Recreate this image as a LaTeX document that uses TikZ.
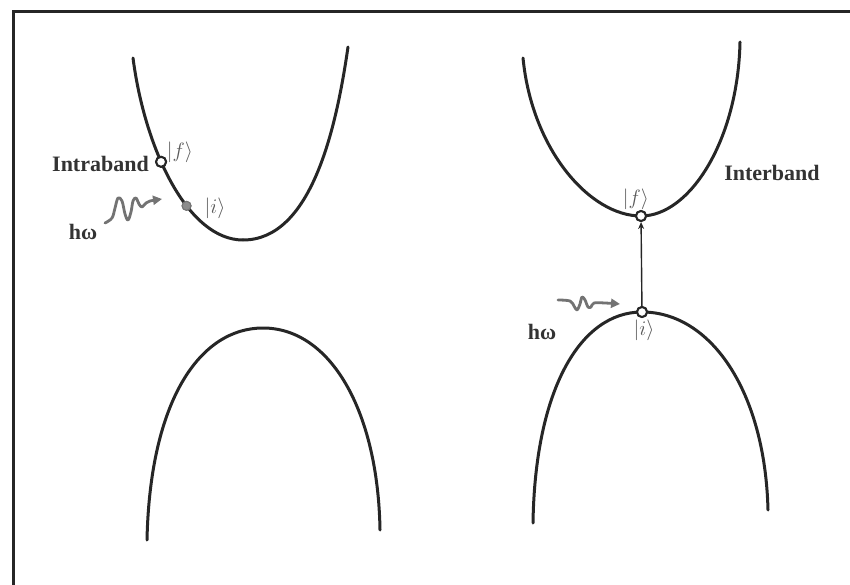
\documentclass[tikz,border=0pt]{standalone}
\usepackage{fontspec}
\setmainfont{Liberation Serif}
\usetikzlibrary{arrows.meta}
\tikzset{
  band/.style={line width=3pt, line cap=round, black!85},
  frameline/.style={line width=3.5pt, black!85},
  openstate/.style={circle, draw=black!85, fill=white, line width=2pt, minimum size=10pt, inner sep=0pt},
  fullstate/.style={circle, draw=black!55, fill=black!45, line width=1pt, minimum size=9pt, inner sep=0pt},
  lbl/.style={font=\fontsize{22}{26}\selectfont\bfseries, text=black!80, inner sep=0pt},
  ket/.style={font=\fontsize{21}{24}\selectfont, text=black!65, inner sep=0pt},
  photon/.style={line width=2.8pt, black!55, line cap=round, line join=round, -{Triangle[length=9pt,width=9pt]}},
  transition/.style={line width=1.4pt, black!85, -{Stealth[length=7pt,width=6pt]}}
}
\begin{document}
\begin{tikzpicture}[x=1pt,y=-1pt]
\useasboundingbox (0,0) rectangle (850,585);
% frame
\draw[frameline] (850,11.5) -- (13.5,11.5) -- (13.5,585);
% left conduction band
\draw[band] (133,58) .. controls (145,150) and (188,240) .. (243,240)
   node[pos=0.40, openstate] (fL) {}
   node[pos=0.62, fullstate] (iL) {};
\draw[band] (243,240) .. controls (311,240) and (336,130) .. (348,47);
% left valence band
\draw[band] (147,540) .. controls (150,400) and (200,328) .. (263,328)
   .. controls (330,328) and (378,410) .. (380,530);
% right conduction band
\draw[band] (523,58) .. controls (532,150) and (590,216) .. (641,216)
   node[pos=1, openstate] (fR) {};
\draw[band] (641,216) .. controls (690,216) and (738,140) .. (740,42);
% right valence band
\draw[band] (533,523) .. controls (535,390) and (580,312) .. (642,312)
   node[pos=1, openstate] (iR) {};
\draw[band] (642,312) .. controls (710,312) and (765,390) .. (768,510);
% re-draw state circles on top
\node[openstate] at (fL) {};
\node[fullstate] at (iL) {};
\node[openstate] at (fR) {};
\node[openstate] at (iR) {};
% transition arrow
\draw[transition] (iR) -- (fR);
% labels
\node[lbl, anchor=east] (intra) at (149,164) {Intraband};
\node[lbl] (inter) at (772,173) {Interband};
\node[lbl] (hwL) at (83,232) {hω};
\node[lbl] (hwR) at (542,332) {hω};
\node[ket] (kfL) at (180,152) {$|f\rangle$};
\node[ket] (kiL) at (215,208) {$|i\rangle$};
\node[ket] (kfR) at (636,199) {$|f\rangle$};
\node[ket] (kiR) at (644,330) {$|i\rangle$};
% photons
\coordinate (phL) at (105,223);
\coordinate (phR) at (558,300);
\draw[photon] plot[smooth, tension=0.6] coordinates {(105,223) (112,218) (115,208) (118,198) (122,201) (125,214) (128,220) (131,212) (133,201) (136,198) (139,204) (142,207) (146,203) (150,201) (162,199)};
\draw[photon] plot[smooth, tension=0.6] coordinates {(558,300) (570,301) (574,306) (577,310) (580,304) (582,297) (585,300) (588,307) (591,307) (594,303) (605,303) (620,304)};
\end{tikzpicture}
\end{document}
